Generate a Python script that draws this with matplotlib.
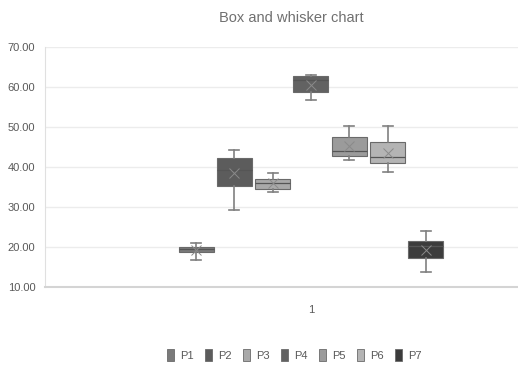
import matplotlib.pyplot as plt

# box and whisker values for each series
series = ['P1', 'P2', 'P3', 'P4', 'P5', 'P6', 'P7']
whis_lo = [16.8, 29.2, 33.8, 56.8, 41.8, 38.7, 13.8]
q1 = [18.8, 35.3, 34.6, 58.7, 42.7, 41.0, 17.3]
median = [19.4, 39.2, 35.9, 61.8, 44.1, 42.6, 20.2]
q3 = [20.1, 42.2, 37.0, 62.7, 47.6, 46.2, 21.6]
whis_hi = [21.0, 44.2, 38.6, 63.0, 50.2, 50.2, 24.1]
means = [19.2, 38.5, 36.0, 60.5, 45.2, 43.6, 19.3]
colors = ['#7a7a7a', '#5c5c5c', '#a9a9a9', '#626262', '#9b9b9b', '#b4b4b4', '#3c3c3c']
yticks = [10, 20, 30, 40, 50, 60, 70]

plt.rcParams['font.family'] = ['Liberation Sans', 'DejaVu Sans']

W, H = 518, 369
fig = plt.figure(figsize=(W / 100, H / 100), dpi=100)
# plot area runs past the right edge of the canvas
ax = fig.add_axes([45 / W, (H - 287) / H, 532 / W, 240 / H])

step = 38.3 / 532
bw = 35 / 532
positions = [1 + (i - 3) * step for i in range(len(series))]

stats = []
for i, name in enumerate(series):
    stats.append(dict(label=name, whislo=whis_lo[i], q1=q1[i], med=median[i],
                      q3=q3[i], whishi=whis_hi[i], mean=means[i], fliers=[]))

bp = ax.bxp(stats, positions=positions, widths=bw, patch_artist=True,
            showmeans=True, capwidths=10 / 532, manage_ticks=False,
            meanprops=dict(marker='x', markersize=7, markeredgecolor='#8a8a8a',
                           markeredgewidth=0.7),
            medianprops=dict(color='#555555', linewidth=0.9),
            whiskerprops=dict(color='#808080', linewidth=1.2),
            capprops=dict(color='#808080', linewidth=1.2))
for patch, c in zip(bp['boxes'], colors):
    patch.set_facecolor(c)
    patch.set_edgecolor('#6a6a6a')
    patch.set_linewidth(0.8)

ax.set_xlim(0.5, 1.5)
ax.set_ylim(10, 70)
ax.set_yticks(yticks)
ax.set_yticklabels([f'{v:.2f}' for v in yticks], fontsize=8, color='#595959')
ax.set_xticks([1])
ax.set_xticklabels(['1'], fontsize=8, color='#595959')
ax.tick_params(length=0, pad=7)
ax.tick_params(axis='x', pad=13)
ax.grid(axis='y', color='#ececec', linewidth=1)
ax.set_axisbelow(True)
for s in ['top', 'right']:
    ax.spines[s].set_visible(False)
ax.spines['left'].set_color('#e0e0e0')
ax.spines['bottom'].set_color('#d4d4d4')
ax.spines['bottom'].set_linewidth(1.5)

fig.text(291 / W, 1 - 18 / H, 'Box and whisker chart', ha='center', va='center',
         fontsize=10.5, color='#707070')

handles = [plt.Rectangle((0, 0), 1, 1, facecolor=c, edgecolor='#6a6a6a', linewidth=0.6)
           for c in colors]
fig.legend(handles, series, loc='center', bbox_to_anchor=(294 / W, 1 - 355 / H),
           ncol=7, frameon=False, handlelength=0.7, handleheight=1.3,
           handletextpad=0.5, columnspacing=1.0, labelcolor='#595959',
           prop=dict(size=8))

fig.savefig('out.png', dpi=100)
